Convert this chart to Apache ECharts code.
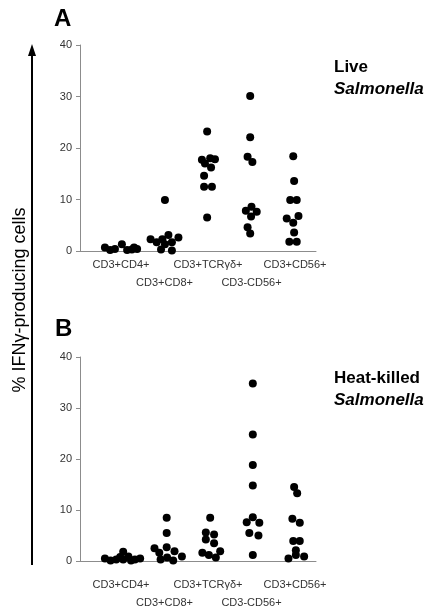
<!DOCTYPE html>
<html>
<head>
<meta charset="utf-8">
<script src="https://cdn.jsdelivr.net/npm/echarts@6/dist/echarts.min.js"></script>
<style>html,body{margin:0;padding:0;background:#fff}#c{width:430px;height:611px}</style>
</head>
<body>
<div id="c"></div>
<script>
// ---- data ----
var categories = ['CD3+CD4+', 'CD3+CD8+', 'CD3+TCR\u03b3\u03b4+', 'CD3-CD56+', 'CD3+CD56+'];
var yTicks = [0, 10, 20, 30, 40];

// Panel A: live Salmonella (% IFNγ-producing cells)
var liveCD4 = [0.7, 0.2, 0.4, 1.3, 0.2, 0.3, 0.7, 0.4];
var liveCD8 = [2.3, 1.7, 0.3, 2.3, 9.9, 3.1, 1.3, 1.7, 0.1, 2.6];
var liveTCRgd = [23.2, 17.7, 18.0, 17.8, 17.0, 16.2, 14.6, 12.5, 12.5, 6.5];
var liveCD3negCD56 = [30.1, 22.1, 18.3, 17.3, 8.6, 7.8, 7.6, 6.7, 4.6, 3.4];
var liveCD3CD56 = [18.4, 13.6, 9.9, 9.9, 6.3, 6.8, 5.5, 3.6, 1.8, 1.8];

// Panel B: heat-killed Salmonella
var hkCD4 = [0.5, 0.1, 0.3, 0.8, 1.8, 0.3, 0.9, 0.1, 0.3, 0.5];
var hkCD8 = [2.5, 1.6, 0.3, 8.5, 5.5, 2.7, 0.7, 0.1, 1.9, 0.9];
var hkTCRgd = [8.5, 5.6, 5.2, 4.2, 3.5, 1.6, 1.2, 0.7, 1.9];
var hkCD3negCD56 = [34.8, 24.8, 18.8, 14.8, 8.6, 7.6, 7.5, 5.5, 5.0, 1.2];
var hkCD3CD56 = [14.5, 13.3, 8.3, 7.5, 3.9, 3.9, 2.1, 1.2, 0.9, 0.5];

// horizontal spread of each dot within its column (category units)
var liveCD4Jit = [-0.37, -0.25, -0.14, 0.02, 0.14, 0.25, 0.30, 0.37];
var liveCD8Jit = [-0.32, -0.18, -0.08, -0.05, 0.01, 0.09, 0.01, 0.17, 0.17, 0.32];
var liveTCRgdJit = [-0.02, -0.14, 0.05, 0.16, -0.07, 0.07, -0.09, -0.09, 0.09, -0.02];
var liveCD3negCD56Jit = [-0.03, -0.03, -0.09, 0.02, 0, -0.13, 0.12, -0.01, -0.09, -0.03];
var liveCD3CD56Jit = [-0.04, -0.02, -0.11, 0.04, -0.19, 0.08, -0.04, -0.02, -0.13, 0.04];
var hkCD4Jit = [-0.37, -0.24, -0.11, -0.02, 0.05, 0.05, 0.17, 0.23, 0.32, 0.44];
var hkCD8Jit = [-0.23, -0.12, -0.09, 0.05, 0.05, 0.05, 0.06, 0.20, 0.23, 0.40];
var hkTCRgdJit = [0.05, -0.05, 0.14, -0.05, 0.14, -0.13, 0.02, 0.18, 0.28];
var hkCD3negCD56Jit = [0.03, 0.03, 0.03, 0.03, 0.03, -0.11, 0.18, -0.05, 0.16, 0.03];
var hkCD3CD56Jit = [-0.02, 0.05, -0.06, 0.11, -0.04, 0.11, 0.02, 0.02, 0.21, -0.15];

var liveGroups = [liveCD4, liveCD8, liveTCRgd, liveCD3negCD56, liveCD3CD56];
var liveJit = [liveCD4Jit, liveCD8Jit, liveTCRgdJit, liveCD3negCD56Jit, liveCD3CD56Jit];
var hkGroups = [hkCD4, hkCD8, hkTCRgd, hkCD3negCD56, hkCD3CD56];
var hkJit = [hkCD4Jit, hkCD8Jit, hkTCRgdJit, hkCD3negCD56Jit, hkCD3CD56Jit];

function buildPoints(groups, jit) {
  var pts = [];
  groups.forEach(function (vals, ci) {
    vals.forEach(function (v, k) { pts.push([ci + jit[ci][k], v]); });
  });
  return pts;
}

var FONT = '"Liberation Sans", Arial, sans-serif';
var axisGray = '#8c8c8c';
var catIdx = categories.map(function (c, i) { return i; });
var evenIdx = catIdx.filter(function (i) { return i % 2 === 0; });
var oddIdx = catIdx.filter(function (i) { return i % 2 === 1; });

function xAxisCfg(gi, margin, idx, showLine) {
  return {
    type: 'value', gridIndex: gi, position: 'bottom', min: -0.943, max: 4.483,
    axisLine: { show: showLine, onZero: false, lineStyle: { color: axisGray, width: 1 } },
    axisTick: { show: false },
    splitLine: { show: false },
    axisLabel: {
      customValues: idx,
      hideOverlap: false, showMinLabel: true, showMaxLabel: true,
      fontFamily: FONT, fontSize: 11, color: '#333', margin: margin,
      formatter: function (v) { return categories[Math.round(v)]; }
    }
  };
}
function yAxisCfg(gi) {
  return {
    type: 'value', gridIndex: gi, position: 'left', min: yTicks[0], max: yTicks[yTicks.length - 1], interval: 10,
    axisLine: { show: true, onZero: false, lineStyle: { color: axisGray, width: 1 } },
    axisTick: { show: true, length: 4, lineStyle: { color: axisGray } },
    splitLine: { show: false },
    axisLabel: { fontFamily: FONT, fontSize: 11, color: '#333', margin: 8 }
  };
}

var chart = echarts.init(document.getElementById('c'), null, { renderer: 'canvas' });
chart.setOption({
  animation: false,
  backgroundColor: '#fff',
  grid: [
    { left: 80, top: 45, width: 236, height: 206 },
    { left: 80, top: 357, width: 236, height: 204 }
  ],
  xAxis: [
    xAxisCfg(0, 8, evenIdx, true), xAxisCfg(0, 26, oddIdx, false),
    xAxisCfg(1, 18, evenIdx, true), xAxisCfg(1, 36, oddIdx, false)
  ],
  yAxis: [yAxisCfg(0), yAxisCfg(1)],
  title: [
    { text: 'A', left: 49, top: 2, textStyle: { fontFamily: FONT, fontSize: 24, fontWeight: 'bold', color: '#000' } },
    { text: 'B', left: 50, top: 312, textStyle: { fontFamily: FONT, fontSize: 24, fontWeight: 'bold', color: '#000' } },
    { text: '{a|Live}\n{b|Salmonella}', left: 329, top: 51,
      textStyle: { rich: {
        a: { fontFamily: FONT, fontSize: 17, fontWeight: 'bold', color: '#000', lineHeight: 22 },
        b: { fontFamily: FONT, fontSize: 17, fontWeight: 'bold', fontStyle: 'italic', color: '#000', lineHeight: 22 } } } },
    { text: '{a|Heat-killed}\n{b|Salmonella}', left: 329, top: 362,
      textStyle: { rich: {
        a: { fontFamily: FONT, fontSize: 17, fontWeight: 'bold', color: '#000', lineHeight: 22 },
        b: { fontFamily: FONT, fontSize: 17, fontWeight: 'bold', fontStyle: 'italic', color: '#000', lineHeight: 22 } } } }
  ],
  graphic: [
    { type: 'text', x: 20, y: 300, rotation: Math.PI / 2, style: {
        text: '% IFN\u03b3-producing cells', font: '18px ' + FONT, fill: '#000',
        textAlign: 'center', textVerticalAlign: 'middle' } },
    { type: 'line', shape: { x1: 32, y1: 565, x2: 32, y2: 54 }, style: { stroke: '#000', lineWidth: 2 } },
    { type: 'polygon', shape: { points: [[32, 44], [28, 56], [36, 56]] }, style: { fill: '#000' } }
  ],
  series: [
    { type: 'scatter', xAxisIndex: 0, yAxisIndex: 0, symbol: 'circle', symbolSize: 8,
      itemStyle: { color: '#000', opacity: 1 }, data: buildPoints(liveGroups, liveJit) },
    { type: 'scatter', xAxisIndex: 2, yAxisIndex: 1, symbol: 'circle', symbolSize: 8,
      itemStyle: { color: '#000', opacity: 1 }, data: buildPoints(hkGroups, hkJit) }
  ]
});
</script>
</body>
</html>
